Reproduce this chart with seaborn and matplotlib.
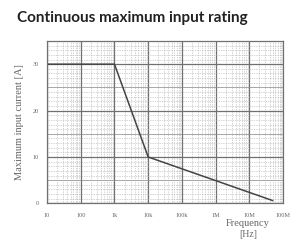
import numpy as np
import pandas as pd
import matplotlib
matplotlib.use("Agg")
import matplotlib.pyplot as plt
import seaborn as sns
from matplotlib.ticker import FixedLocator, LogLocator, MultipleLocator, NullFormatter

# data
freq = [10, 1e3, 1e4, 5e7]
current = [30, 30, 10, 0.6]
xtick_vals = [10, 100, 1e3, 1e4, 1e5, 1e6, 1e7, 1e8]
xtick_labels = ["10", "100", "1k", "10k", "100k", "1M", "10M", "100M"]
ytick_vals = [0, 10, 20, 30]

df = pd.DataFrame({"freq": freq, "current": current})

sns.set_style("white")
plt.rcParams["font.family"] = ["Liberation Serif", "DejaVu Serif"]

fig = plt.figure(figsize=(2.96, 2.41), dpi=100)
ax = fig.add_axes([0.159, 0.156, 0.797, 0.674])

sns.lineplot(data=df, x="freq", y="current", sort=False, color="#444444", linewidth=1.1, ax=ax)
ax.set_xscale("log")
ax.set_xlim(10, 1e8)
ax.set_ylim(0, 35)

ax.xaxis.set_major_locator(FixedLocator(xtick_vals))
ax.set_xticks(xtick_vals)
ax.set_xticklabels(xtick_labels)
ax.xaxis.set_minor_locator(LogLocator(base=10, subs=np.arange(2, 10)))
ax.xaxis.set_minor_formatter(NullFormatter())
ax.set_yticks(ytick_vals)
ax.yaxis.set_minor_locator(MultipleLocator(1))

ax.grid(which="major", color="#707070", linewidth=0.9, linestyle="-")
ax.grid(which="minor", color="#aaaaaa", linewidth=0.5, linestyle=(0, (1, 1.5)))
for yv in np.arange(5, 35, 10):
    ax.axhline(yv, color="#999999", linewidth=0.6, zorder=0.5)

ax.tick_params(axis="x", which="both", length=0, labelsize=4.5, labelcolor="#666666", pad=7)
ax.tick_params(axis="y", which="both", length=0, labelsize=4.5, labelcolor="#666666", pad=6)
for s in ax.spines.values():
    s.set_color("#707070")
    s.set_linewidth(0.9)

ax.set_xlabel("")
ax.set_ylabel("Maximum input current [A]", fontsize=7.5, color="#666666", labelpad=6)
fig.text(0.838, 0.072, "Frequency", ha="center", va="center", fontsize=7.5, color="#666666")
fig.text(0.838, 0.029, "[Hz]", ha="center", va="center", fontsize=7, color="#666666")

fig.text(0.057, 0.925, "Continuous maximum input rating", ha="left", va="center",
         fontsize=11, fontweight="bold", color="#222222", family=["Lato", "DejaVu Sans"])

fig.savefig("out.png", dpi=100)
